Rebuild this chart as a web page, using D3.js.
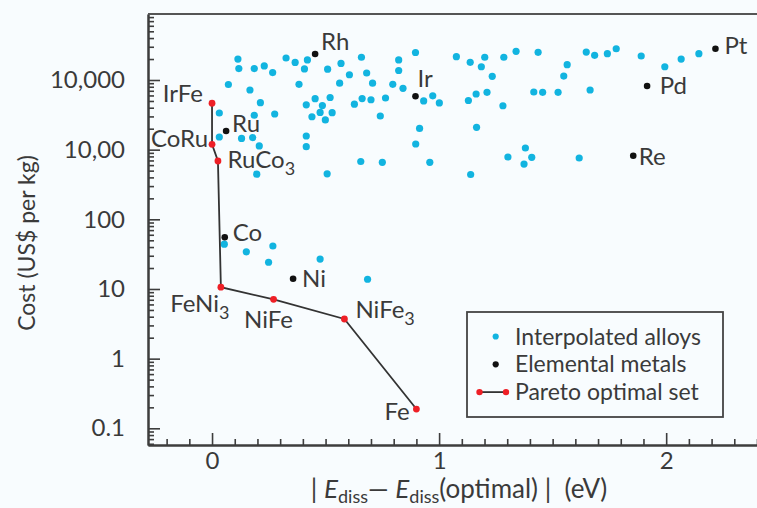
<!DOCTYPE html>
<html>
<head>
<meta charset="utf-8">
<script src="https://cdn.jsdelivr.net/npm/d3@7"></script>
<style>
  html, body { margin: 0; padding: 0; background: #f8fcfe; }
  svg { display: block; }
  text { font-family: Lato, "Open Sans", sans-serif; fill: #3a3a3a; }
</style>
</head>
<body>
<svg id="chart" width="757" height="508"></svg>
<script>
// ---- data -------------------------------------------------------------
// Interpolated alloys: |E_diss - E_diss(optimal)| (eV) and cost (US$ per kg)
const alloyX = [
  0.114, 0.118, 0.186, 0.230, 0.267, 0.326, 0.366, 0.407, 0.420, 0.072,
  0.167, 0.383, 0.213, 0.032, 0.186, 0.276, 0.415, 0.032, 0.130, 0.179,
  0.208, 0.415, 0.415, 0.197, 0.658, 0.568, 0.509, 0.605, 0.681, 0.822,
  0.822, 0.896, 1.076, 0.562, 0.707, 0.796, 0.841, 0.454, 0.486, 0.520,
  0.627, 0.661, 0.700, 0.764, 0.476, 0.529, 0.440, 0.499, 0.741, 0.932,
  0.972, 1.001, 0.914, 0.897, 0.655, 0.750, 0.959, 0.507, 1.137, 1.201,
  1.186, 1.285, 1.339, 1.436, 1.234, 1.163, 1.211, 1.129, 1.281, 1.417,
  1.456, 1.524, 1.648, 1.685, 1.741, 1.780, 1.564, 1.549, 1.665, 1.165,
  1.380, 1.303, 1.408, 1.374, 1.617, 1.139, 1.890, 1.994, 2.066, 2.144,
  0.054, 0.151, 0.268, 0.249, 0.476, 0.685
];
const alloyCost = [
  20000, 14600, 14600, 15900, 12800, 20700, 17900, 14400, 19400, 8620,
  7180, 8670, 4720, 3360, 3120, 3250, 4400, 1520, 1450, 1490,
  1130, 1570, 1105, 445, 21200, 17300, 14300, 11900, 12600, 19400,
  13700, 24800, 21600, 9000, 9000, 8670, 7600, 5390, 4300, 5610,
  4500, 5420, 5210, 5520, 3420, 3400, 2970, 2670, 3040, 5000,
  5930, 4680, 2015, 1206, 676, 659, 659, 450, 17950, 21200,
  15500, 21200, 25800, 25000, 11300, 6300, 6660, 5080, 4270, 6730,
  6660, 6660, 25200, 22600, 23900, 28100, 16600, 11400, 7180, 2095,
  1057, 785, 777, 622, 759, 440, 22100, 15500, 20000, 23900,
  44, 34.2, 41.4, 24.2, 26.9, 13.8
];

// Elemental metals
const metalNames = ["Ru", "Rh", "Ir", "Pt", "Pd", "Re", "Co", "Ni"];
const metalX     = [0.062, 0.454, 0.896, 2.217, 1.916, 1.855, 0.056, 0.357];
const metalCost  = [1855, 23600, 5850, 28100, 8200, 818, 55.2, 14.0];

// Pareto optimal set, in path order
const paretoNames = ["IrFe", "CoRu", "RuCo3", "FeNi3", "NiFe", "NiFe3", "Fe"];
const paretoX     = [0.000, 0.000, 0.026, 0.039, 0.271, 0.583, 0.900];
const paretoCost  = [4640, 1194, 687, 10.6, 7.1, 3.71, 0.189];

// Axis ticks
const yTickValues = [0.1, 1, 10, 100, 1000, 10000];
const yTickLabels = ["0.1", "1", "10", "100", "10,00", "10,000"];
const xTickValues = [0, 1, 2];
const xTickLabels = ["0", "1", "2"];

// ---- layout ------------------------------------------------------------
const plotL = 148, plotR = 757, plotT = 14, plotB = 445;
const COL_ALLOY = "#12b4e0", COL_METAL = "#111111", COL_PARETO = "#ee1f26";
const COL_AXIS = "#3d3d3d";
const FS = 24;

const svg = d3.select("#chart");

const x = d3.scaleLinear().domain([-0.282, 2.40]).range([plotL, plotR]);
const y = d3.scaleLog().domain([0.0576, 88600]).range([plotB, plotT]);

// minor ticks
const yMinor = [];
for (let e = -2; e <= 4; e++) {
  for (let m = 2; m <= 9; m++) {
    const v = m * Math.pow(10, e);
    if (v >= y.domain()[0] && v <= y.domain()[1]) yMinor.push(v);
  }
}
const xMinor = d3.range(-2, 25).map(i => i / 10).filter(v => Math.abs(v - Math.round(v)) > 1e-6);

// ---- axes ----------------------------------------------------------------
function styleAxis(g) {
  g.select(".domain").attr("stroke", COL_AXIS).attr("stroke-width", 2);
  g.selectAll(".tick line").attr("stroke", COL_AXIS).attr("stroke-width", 1.6);
  g.selectAll(".tick text").attr("fill", "#3a3a3a").attr("font-size", FS)
    .attr("font-family", "Lato, 'Open Sans', sans-serif");
}

svg.append("g").attr("transform", `translate(${plotL},0)`)
  .call(d3.axisLeft(y).tickValues(yMinor).tickFormat("").tickSizeInner(-6).tickSizeOuter(0))
  .call(styleAxis);
svg.append("g").attr("transform", `translate(${plotL},0)`)
  .call(d3.axisLeft(y).tickValues(yTickValues).tickFormat((d, i) => yTickLabels[i])
    .tickSizeInner(-12).tickSizeOuter(0).tickPadding(23))
  .call(styleAxis);

svg.append("g").attr("transform", `translate(0,${plotB})`)
  .call(d3.axisBottom(x).tickValues(xMinor).tickFormat("").tickSizeInner(-6).tickSizeOuter(0))
  .call(styleAxis);
svg.append("g").attr("transform", `translate(0,${plotB})`)
  .call(d3.axisBottom(x).tickValues(xTickValues).tickFormat((d, i) => xTickLabels[i])
    .tickSizeInner(-12).tickSizeOuter(0).tickPadding(7))
  .call(styleAxis);

// top frame line
svg.append("line")
  .attr("x1", plotL).attr("x2", plotR).attr("y1", plotT).attr("y2", plotT)
  .attr("stroke", "#555").attr("stroke-width", 2);

// axis titles
svg.append("text")
  .attr("transform", `translate(35,243) rotate(-90)`)
  .attr("text-anchor", "middle").attr("font-size", 23)
  .text("Cost (US$ per kg)");

const xt = svg.append("text")
  .attr("x", 459).attr("y", 498).attr("text-anchor", "middle")
  .attr("font-size", 26).style("white-space", "pre");
xt.append("tspan").text("| ");
xt.append("tspan").attr("font-style", "italic").text("E");
xt.append("tspan").attr("font-size", 18).attr("dy", 5).text("diss");
xt.append("tspan").attr("dy", -5).text("\u2014 ");
xt.append("tspan").attr("font-style", "italic").text("E");
xt.append("tspan").attr("font-size", 18).attr("dy", 5).text("diss");
xt.append("tspan").attr("dy", -5).text("(optimal) |  (eV)");

// ---- marks -----------------------------------------------------------------
const alloys = alloyX.map((v, i) => ({ x: v, c: alloyCost[i] }));
svg.append("g").selectAll("circle").data(alloys).join("circle")
  .attr("cx", d => x(d.x)).attr("cy", d => y(d.c)).attr("r", 3.6)
  .attr("fill", COL_ALLOY);

const pareto = paretoX.map((v, i) => ({ name: paretoNames[i], x: v, c: paretoCost[i] }));
svg.append("path").datum(pareto)
  .attr("d", d3.line().x(d => x(d.x)).y(d => y(d.c)))
  .attr("fill", "none").attr("stroke", "#333").attr("stroke-width", 1.8);
svg.append("g").selectAll("circle").data(pareto).join("circle")
  .attr("cx", d => x(d.x)).attr("cy", d => y(d.c)).attr("r", 3.4)
  .attr("fill", COL_PARETO);

const metals = metalX.map((v, i) => ({ name: metalNames[i], x: v, c: metalCost[i] }));
svg.append("g").selectAll("circle").data(metals).join("circle")
  .attr("cx", d => x(d.x)).attr("cy", d => y(d.c)).attr("r", 3.3)
  .attr("fill", COL_METAL);

// ---- point labels ------------------------------------------------------------
// offsets from each point to the label baseline
const labelPlace = {
  Ru:   { dx: 6,   dy: 1,    anchor: "start" },
  Rh:   { dx: 6,   dy: -4,   anchor: "start" },
  Ir:   { dx: 2,   dy: -9.5, anchor: "start" },
  Pt:   { dx: 9,   dy: 5.6,  anchor: "start" },
  Pd:   { dx: 12.6, dy: 8,   anchor: "start" },
  Re:   { dx: 5.6, dy: 9.3,  anchor: "start" },
  Co:   { dx: 8,   dy: 3.4,  anchor: "start" },
  Ni:   { dx: 9,   dy: 8.5,  anchor: "start" },
  IrFe: { dx: -9,  dy: -1.3, anchor: "end" },
  CoRu: { dx: -4,  dy: 2.7,  anchor: "end" },
  RuCo3:{ dx: 9.6, dy: 7.3,  anchor: "start" },
  FeNi3:{ dx: 8.5, dy: 24.4, anchor: "end" },
  NiFe: { dx: -5,  dy: 29,   anchor: "middle" },
  NiFe3:{ dx: 11,  dy: -0.7, anchor: "start" },
  Fe:   { dx: -6.7, dy: 11,  anchor: "end" }
};

function addLabel(d) {
  const p = labelPlace[d.name];
  const t = svg.append("text")
    .attr("x", x(d.x) + p.dx).attr("y", y(d.c) + p.dy)
    .attr("text-anchor", p.anchor).attr("font-size", FS);
  const m = d.name.match(/^(.*?)(\d+)$/);
  if (m) {
    t.append("tspan").text(m[1]);
    t.append("tspan").attr("font-size", 18).attr("dy", 7).text(m[2]);
  } else {
    t.text(d.name);
  }
}
metals.forEach(addLabel);
pareto.forEach(addLabel);

// ---- legend ----------------------------------------------------------------
const lg = svg.append("g");
lg.append("rect").attr("x", 467).attr("y", 312).attr("width", 256).attr("height", 105)
  .attr("fill", "none").attr("stroke", "#444").attr("stroke-width", 1.8);
const rows = [
  { label: "Interpolated alloys", type: "alloy" },
  { label: "Elemental metals", type: "metal" },
  { label: "Pareto optimal set", type: "pareto" }
];
rows.forEach((r, i) => {
  const cy = 336.5 + i * 27.8;
  if (r.type === "pareto") {
    lg.append("line").attr("x1", 479.5).attr("x2", 506).attr("y1", cy).attr("y2", cy)
      .attr("stroke", "#333").attr("stroke-width", 1.8);
    [479.5, 506].forEach(cx => lg.append("circle").attr("cx", cx).attr("cy", cy)
      .attr("r", 3.2).attr("fill", COL_PARETO));
  } else {
    lg.append("circle").attr("cx", 495.7).attr("cy", cy).attr("r", 3.1)
      .attr("fill", r.type === "alloy" ? COL_ALLOY : COL_METAL);
  }
  lg.append("text").attr("x", 515).attr("y", cy + 8).attr("font-size", 23).text(r.label);
});
</script>
</body>
</html>
